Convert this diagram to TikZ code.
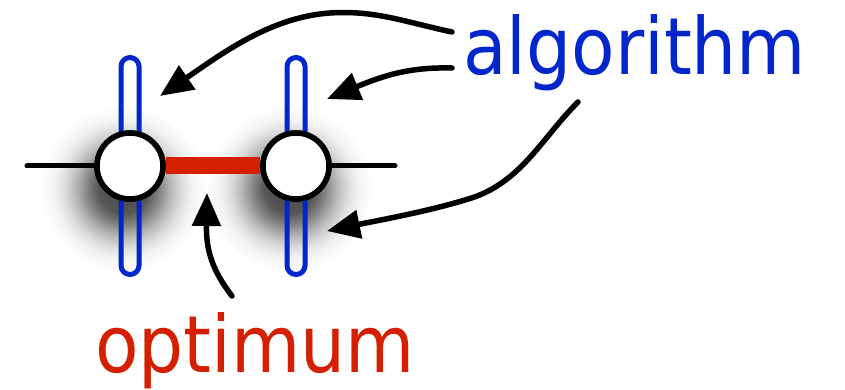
\documentclass[tikz,border=0pt]{standalone}
\usepackage{fontspec}
\setmainfont{DejaVu Sans Condensed}
\usetikzlibrary{arrows.meta}
\definecolor{algblue}{RGB}{0,38,204}
\definecolor{optred}{RGB}{212,32,0}
\pgfdeclareradialshading{cshadow}{\pgfpoint{0bp}{0bp}}{%
  color(0bp)=(black!72); color(7.5bp)=(black!66); color(11bp)=(black!48);
  color(14.5bp)=(black!28); color(18bp)=(black!13); color(21bp)=(black!5);
  color(24bp)=(black!1.5); color(26.5bp)=(white); color(50bp)=(white)}
\begin{document}
\begin{tikzpicture}[x=1pt,y=-1pt,
  pill/.style={draw=algblue, line width=5pt, rounded corners=9pt,
    minimum width=18pt, minimum height=217pt, inner sep=0pt},
  knot/.style={circle, draw=black, fill=white, line width=5.5pt, minimum size=66pt, inner sep=0pt},
  axis/.style={line width=5pt, line cap=round},
  ptr/.style={line width=5.5pt, line cap=round, -{Triangle[length=33pt,width=28pt,fill=black]}},
  lbl/.style={font=\fontsize{79}{79}\selectfont, inner sep=0pt, anchor=base west},
  shad/.style={shading=cshadow}]
\useasboundingbox (0,0) rectangle (845,390);
\coordinate (p1) at (130,166);
\coordinate (p2) at (296,166);
% shadows
\coordinate (sh1) at (123,189);
\coordinate (sh2) at (289,189);
\shade[shad] (sh1) circle (82);
\shade[shad] (sh2) circle (82);
% pills
\node[pill] (pillA) at (p1) {};
\node[pill] (pillB) at (p2) {};
% axis ends
\coordinate (lend) at (27,166);
\coordinate (rend) at (395,166);
% circles
\node[knot] (c1) at (p1) {};
\node[knot] (c2) at (p2) {};
\draw[axis] (lend) -- (c1.west);
\draw[axis] (c2.east) -- (rend);
\draw[optred, line width=17pt] (c1.east) -- (c2.west);
\node[knot] at (p1) {};
\node[knot] at (p2) {};
% labels
\node[lbl, text=algblue] (alg) at (463,75) {algorithm};
\node[lbl, text=optred] (opt) at (95,372) {optimum};
% arrow ends
\coordinate (s1) at (452,32);
\coordinate (t1) at (160,96);
\coordinate (s2) at (452,68);
\coordinate (t2) at (327,99);
\coordinate (s3) at (578,102);
\coordinate (t3) at (327,231);
\coordinate (s4) at (232,296);
\coordinate (t4) at (207,193);
\draw[ptr] (s1) .. controls (405,22) and (375,10) .. (330,13) .. controls (270,17) and (220,55) .. (t1);
\draw[ptr] (s2) .. controls (410,67) and (385,75) .. (t2);
\draw[ptr] (s3) .. controls (540,140) and (520,185) .. (465,200) .. controls (425,212) and (380,220) .. (t3);
\draw[ptr] (s4) .. controls (212,270) and (206,250) .. (t4);
\end{tikzpicture}
\end{document}
